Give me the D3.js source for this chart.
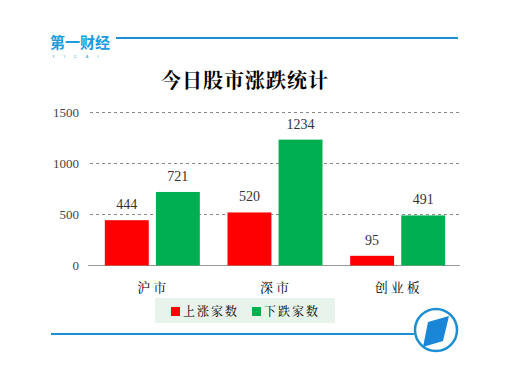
<!DOCTYPE html>
<html>
<head>
<meta charset="utf-8">
<script src="https://d3js.org/d3.v7.min.js"></script>
<style>
  body { margin: 0; background: #fff; }
  text { font-family: "Noto Serif CJK SC", "Noto Sans CJK SC", serif; }
</style>
</head>
<body>
<script>
    // data
    let categories = ["沪市", "深市", "创业板"];
    let seriesNames = ["上涨家数", "下跌家数"];
    let upValues = [444, 520, 95];
    let downValues = [721, 1234, 491];
    let yTicks = [0, 500, 1000, 1500];
    let colors = ["#ff0000", "#00b050"];

    let width = 516, height = 371;
    let svg = d3.select("body").append("svg")
        .attr("width", width).attr("height", height);

    // header line + logo
    svg.append("line").attr("x1", 50).attr("x2", 458).attr("y1", 38).attr("y2", 38)
        .attr("stroke", "#1b8fd2").attr("stroke-width", 2);
    svg.append("rect").attr("x", 48).attr("y", 30).attr("width", 68).attr("height", 30).attr("fill", "#fff");
    svg.append("text").attr("x", 50).attr("y", 48)
        .attr("fill", "#1b9be0").attr("font-size", 15).attr("font-weight", "bold")
        .style("font-family", "'Noto Sans CJK SC', sans-serif")
        .text("第一财经");
    svg.append("text").attr("x", 52).attr("y", 58)
        .attr("fill", "#1b9be0").attr("font-size", 4).attr("letter-spacing", 9)
        .style("font-family", "sans-serif")
        .text("YICAI");

    // title
    svg.append("text").attr("x", 245).attr("y", 88).attr("text-anchor", "middle")
        .attr("font-size", 20).attr("font-weight", "bold").attr("letter-spacing", 1)
        .attr("fill", "#000")
        .text("今日股市涨跌统计");

    let margin = {left: 90, right: 460, top: 112.5, bottom: 265.5};

    let y = d3.scaleLinear().domain([0, 1500]).range([margin.bottom, margin.top]);
    let x = d3.scaleBand().domain(categories).range([91, 459]).padding(0);
    let xs = d3.scaleBand().domain(seriesNames).range([0, 95]).paddingInner(0.14);

    // gridlines
    svg.append("g").selectAll("line")
        .data(yTicks.filter(d => d > 0))
        .join("line")
            .attr("x1", margin.left).attr("x2", margin.right)
            .attr("y1", d => y(d)).attr("y2", d => y(d))
            .attr("stroke", "#888").attr("stroke-dasharray", "3,3").attr("stroke-width", 1);

    svg.append("line").attr("x1", 88).attr("x2", margin.right)
        .attr("y1", y(0)).attr("y2", y(0))
        .attr("stroke", "#999").attr("stroke-width", 1);

    // y axis labels
    svg.append("g").selectAll("text")
        .data(yTicks)
        .join("text")
            .attr("x", 79).attr("y", d => y(d) + 4.5)
            .attr("text-anchor", "end").attr("font-size", 13).attr("fill", "#444")
            .style("font-family", "'Liberation Serif', serif")
            .text(d => d);

    let rows = categories.map((c, i) => ({cat: c, vals: [upValues[i], downValues[i]]}));

    let groups = svg.append("g").selectAll("g")
        .data(rows)
        .join("g")
            .attr("transform", d => `translate(${x(d.cat) + x.bandwidth() / 2 - 47.5},0)`);

    groups.selectAll("rect")
        .data(d => d.vals.map((v, j) => ({key: seriesNames[j], v: v, j: j})))
        .join("rect")
            .attr("x", d => xs(d.key))
            .attr("y", d => y(d.v))
            .attr("width", xs.bandwidth())
            .attr("height", d => y(0) - y(d.v))
            .attr("fill", d => colors[d.j]);

    groups.selectAll("text.val")
        .data(d => d.vals.map((v, j) => ({key: seriesNames[j], v: v})))
        .join("text")
            .attr("class", "val")
            .attr("x", d => xs(d.key) + xs.bandwidth() / 2)
            .attr("y", d => y(d.v) - 11)
            .attr("text-anchor", "middle").attr("font-size", 14).attr("fill", "#333")
            .style("font-family", "'Liberation Serif', serif")
            .text(d => d.v);

    // category labels
    svg.append("g").selectAll("text")
        .data(categories)
        .join("text")
            .attr("x", d => x(d) + x.bandwidth() / 2 + 1)
            .attr("y", 292)
            .attr("text-anchor", "middle").attr("font-size", 13).attr("letter-spacing", 3)
            .attr("fill", "#000")
            .text(d => d);

    // legend
    svg.append("rect").attr("x", 155).attr("y", 298).attr("width", 180).attr("height", 25)
        .attr("fill", "#e8f3ec");
    let legX = [171, 252];
    seriesNames.forEach((s, i) => {
        svg.append("rect").attr("x", legX[i]).attr("y", 307).attr("width", 9).attr("height", 9)
            .attr("fill", colors[i]);
        svg.append("text").attr("x", legX[i] + 12).attr("y", 316)
            .attr("font-size", 12).attr("letter-spacing", 2).attr("fill", "#000")
            .text(s);
    });

    // footer line + emblem
    svg.append("line").attr("x1", 51).attr("x2", 414).attr("y1", 334).attr("y2", 334)
        .attr("stroke", "#1b8fd2").attr("stroke-width", 2);
    svg.append("circle").attr("cx", 436).attr("cy", 330).attr("r", 21)
        .attr("fill", "#fff").attr("stroke", "#1b8fd2").attr("stroke-width", 2.5);
    svg.append("path")
        .attr("d", "M428,322 L449,316 L443,341 L423,347 Z")
        .attr("fill", "#1a86d8");
</script>
</body>
</html>
